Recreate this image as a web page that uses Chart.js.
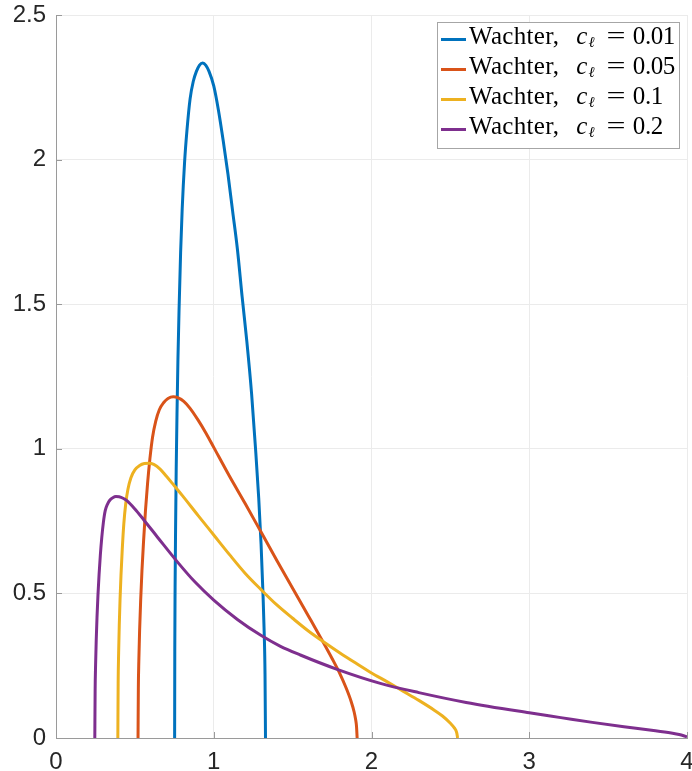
<!DOCTYPE html>
<html>
<head>
<meta charset="utf-8">
<script src="https://cdn.jsdelivr.net/npm/chart.js@4"></script>
<style>
  html, body { margin: 0; padding: 0; background: #fff; }
  #wrap { position: relative; width: 692px; height: 771px; }
  #legend {
    position: absolute; left: 437px; top: 22px; width: 243px; height: 127px;
    box-sizing: border-box; border: 1px solid #a6a6a6; background: #fff;
    font-family: 'Liberation Serif', serif; font-size: 25px; color: #000;
  }
  #legend .row { position: absolute; left: 0; height: 30px; line-height: 30px; white-space: nowrap; }
  #legend .swatch { position: absolute; left: 3px; top: 17px; width: 25px; height: 3px; }
  #legend .txt { position: absolute; left: 31px; top: 0; }
  #legend .word { letter-spacing: 0.3px; }
  #legend .c { font-style: italic; margin-left: 17px; }
  #legend sub { font-size: 15px; line-height: 0; vertical-align: -3px; font-style: italic; margin-left: 1px; }
  #legend .eq { display: inline-block; margin: 0 10px 0 14px; transform: scaleX(1.35); }
  #legend .num { letter-spacing: -0.4px; }
</style>
</head>
<body>
<div id="wrap">
  <canvas id="chart" width="692" height="771"></canvas>
  <div id="legend"></div>
</div>
<script>
// ── Data ───────────────────────────────────────────────────
const seriesLabels = ['0.01', '0.05', '0.1', '0.2'];
const seriesColors = ['#0072BD', '#D95319', '#EDB120', '#7E2F8E'];

const xTicks = [0, 1, 2, 3, 4];
const yTicks = [0, 0.5, 1, 1.5, 2, 2.5];

// c = 0.01
const c001X = [0.752, 0.753, 0.755, 0.758, 0.762, 0.767, 0.773, 0.780, 0.790, 0.800, 0.815, 0.830, 0.850, 0.870, 0.890, 0.910, 0.930, 0.950, 0.970, 1.000, 1.030, 1.060, 1.090, 1.120, 1.150, 1.180, 1.210, 1.240, 1.265, 1.285, 1.300, 1.312, 1.320, 1.325, 1.328];
const c001Y = [0, 0.30, 0.52, 0.72, 0.93, 1.12, 1.31, 1.48, 1.68, 1.83, 1.99, 2.10, 2.21, 2.27, 2.305, 2.327, 2.334, 2.326, 2.305, 2.255, 2.17, 2.065, 1.95, 1.82, 1.69, 1.525, 1.37, 1.19, 1.00, 0.83, 0.67, 0.50, 0.36, 0.22, 0];

// c = 0.05
const c005X = [0.520, 0.522, 0.525, 0.530, 0.537, 0.545, 0.555, 0.567, 0.580, 0.595, 0.612, 0.632, 0.655, 0.683, 0.710, 0.743, 0.775, 0.810, 0.850, 0.900, 0.950, 1.000, 1.100, 1.200, 1.300, 1.400, 1.500, 1.600, 1.700, 1.750, 1.800, 1.840, 1.870, 1.890, 1.900, 1.905, 1.909];
const c005Y = [0, 0.17, 0.265, 0.372, 0.48, 0.58, 0.68, 0.785, 0.877, 0.964, 1.04, 1.095, 1.135, 1.16, 1.174, 1.18, 1.176, 1.164, 1.14, 1.10, 1.055, 1.005, 0.905, 0.81, 0.712, 0.614, 0.518, 0.422, 0.325, 0.275, 0.222, 0.172, 0.128, 0.09, 0.062, 0.04, 0];

// c = 0.1
const c01X = [0.392, 0.394, 0.397, 0.401, 0.406, 0.412, 0.420, 0.430, 0.442, 0.456, 0.475, 0.500, 0.530, 0.560, 0.588, 0.620, 0.660, 0.700, 0.750, 0.800, 0.900, 1.000, 1.100, 1.200, 1.300, 1.400, 1.500, 1.600, 1.700, 1.800, 1.900, 2.000, 2.100, 2.200, 2.300, 2.400, 2.450, 2.500, 2.525, 2.540, 2.546];
const c01Y = [0, 0.188, 0.293, 0.389, 0.479, 0.563, 0.652, 0.741, 0.81, 0.86, 0.90, 0.927, 0.942, 0.949, 0.95, 0.946, 0.93, 0.905, 0.872, 0.839, 0.77, 0.702, 0.634, 0.569, 0.513, 0.46, 0.414, 0.37, 0.331, 0.294, 0.259, 0.225, 0.194, 0.162, 0.13, 0.0955, 0.076, 0.051, 0.035, 0.019, 0];

// c = 0.2
const c02X = [0.246, 0.248, 0.251, 0.255, 0.260, 0.266, 0.273, 0.281, 0.290, 0.300, 0.312, 0.326, 0.342, 0.360, 0.380, 0.400, 0.425, 0.451, 0.500, 0.557, 0.650, 0.768, 0.880, 1.000, 1.150, 1.296, 1.420, 1.549, 1.782, 2.056, 2.300, 2.600, 3.000, 3.200, 3.400, 3.600, 3.800, 3.900, 3.950, 4.000];
const c02Y = [0, 0.161, 0.253, 0.338, 0.418, 0.494, 0.565, 0.632, 0.692, 0.744, 0.786, 0.808, 0.823, 0.831, 0.835, 0.834, 0.829, 0.82, 0.792, 0.754, 0.69, 0.61, 0.54, 0.477, 0.41, 0.356, 0.318, 0.287, 0.2375, 0.189, 0.157, 0.123, 0.087, 0.0705, 0.054, 0.039, 0.025, 0.017, 0.012, 0.004];

const seriesX = [c001X, c005X, c01X, c02X];
const seriesY = [c001Y, c005Y, c01Y, c02Y];

// ── Legend (HTML, for the LaTeX-style mixed fonts) ─────────
const legendEl = document.getElementById('legend');
seriesLabels.forEach((lab, i) => {
  const row = document.createElement('div');
  row.className = 'row';
  row.style.top = (-2 + i * 30) + 'px';
  row.innerHTML = '<span class="swatch" style="background:' + seriesColors[i] + '"></span>' +
    '<span class="txt"><span class="word">Wachter,</span><span class="c">c</span><sub>ℓ</sub>' +
    '<span class="eq">=</span><span class="num">' + lab + '</span></span>';
  legendEl.appendChild(row);
});

// ── Inward tick marks, like MATLAB ─────────────────────────
const innerTicks = {
  id: 'innerTicks',
  afterDraw(chart) {
    const { ctx, chartArea, scales } = chart;
    ctx.save();
    ctx.strokeStyle = '#9a9a9a';
    ctx.lineWidth = 1;
    ctx.beginPath();
    xTicks.forEach(v => {
      const px = Math.round(scales.x.getPixelForValue(v)) + 0.5;
      ctx.moveTo(px, chartArea.bottom);
      ctx.lineTo(px, chartArea.bottom - 6);
    });
    yTicks.forEach(v => {
      const py = Math.round(scales.y.getPixelForValue(v)) + 0.5;
      ctx.moveTo(chartArea.left, py);
      ctx.lineTo(chartArea.left + 6, py);
    });
    ctx.stroke();
    ctx.restore();
  }
};

const tickFont = { family: "'Liberation Sans', Arial, sans-serif", size: 24 };

new Chart(document.getElementById('chart').getContext('2d'), {
  type: 'scatter',
  data: {
    datasets: seriesLabels.map((lab, i) => ({
      label: 'Wachter, c = ' + lab,
      data: seriesX[i].map((x, k) => ({ x: x, y: seriesY[i][k] })),
      showLine: true,
      borderColor: seriesColors[i],
      backgroundColor: seriesColors[i],
      borderWidth: 3,
      pointRadius: 0,
      cubicInterpolationMode: 'monotone',
      order: 4 - i,
    }))
  },
  options: {
    responsive: false,
    animation: false,
    layout: { padding: { left: 0, top: 15, right: 5, bottom: 0 } },
    plugins: { legend: { display: false }, tooltip: { enabled: false } },
    scales: {
      x: {
        type: 'linear',
        min: 0, max: 4,
        afterBuildTicks: s => { s.ticks = xTicks.map(v => ({ value: v })); },
        afterFit: s => { s.height = 33; s.paddingLeft = 0; s.paddingRight = 0; },
        grid: { color: '#ebebeb', drawTicks: false },
        border: { color: '#9a9a9a', width: 1 },
        ticks: { color: '#262626', font: tickFont, padding: 10, maxRotation: 0, callback: v => String(v) }
      },
      y: {
        type: 'linear',
        min: 0, max: 2.5,
        afterBuildTicks: s => { s.ticks = yTicks.map(v => ({ value: v })); },
        afterFit: s => { s.width = 56; s.paddingTop = 0; s.paddingBottom = 0; },
        grid: { color: '#ebebeb', drawTicks: false },
        border: { color: '#9a9a9a', width: 1 },
        ticks: { color: '#262626', font: tickFont, padding: 10, callback: v => String(v) }
      }
    }
  },
  plugins: [innerTicks]
});
</script>
</body>
</html>
